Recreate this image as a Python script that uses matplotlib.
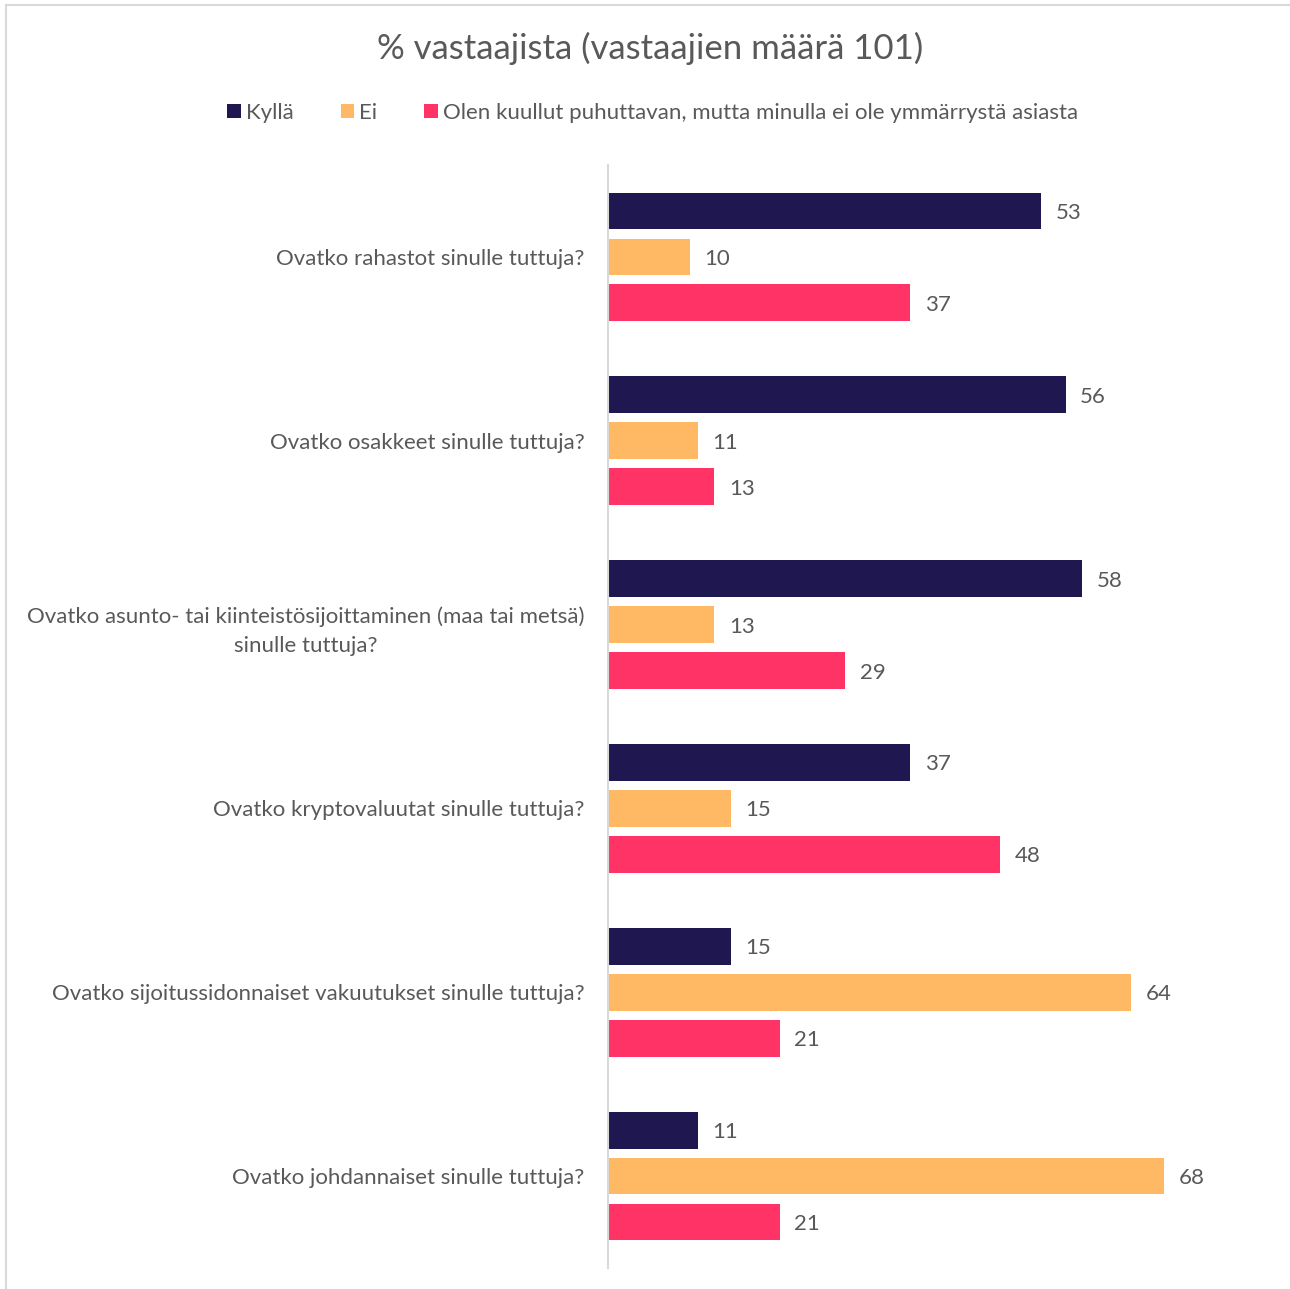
import matplotlib.pyplot as plt
import numpy as np
from matplotlib.patches import Patch
from matplotlib.lines import Line2D

plt.rcParams['font.family'] = ['Lato', 'DejaVu Sans']

questions = [
    "Ovatko rahastot sinulle tuttuja?",
    "Ovatko osakkeet sinulle tuttuja?",
    "Ovatko asunto- tai kiinteistösijoittaminen (maa tai metsä)\nsinulle tuttuja?",
    "Ovatko kryptovaluutat sinulle tuttuja?",
    "Ovatko sijoitussidonnaiset vakuutukset sinulle tuttuja?",
    "Ovatko johdannaiset sinulle tuttuja?",
]
series_names = ["Kyllä", "Ei", "Olen kuullut puhuttavan, mutta minulla ei ole ymmärrystä asiasta"]
kylla = [53, 56, 58, 37, 15, 11]
ei = [10, 11, 13, 15, 64, 68]
olen = [37, 13, 29, 48, 21, 21]
colors = ["#1f174f", "#ffb863", "#ff3366"]

text_col = "#595959"

fig = plt.figure(figsize=(12.9, 12.89), dpi=100)
ax = fig.add_axes([608 / 1290, 1 - 1268 / 1289, (1275 - 608) / 1290, (1268 - 165) / 1289])

centers = np.arange(len(questions)) * 4
for j, (vals, col) in enumerate(zip([kylla, ei, olen], colors)):
    ys = centers + (j - 1)
    ax.barh(ys, vals, height=0.8, color=col)
    for y, v in zip(ys, vals):
        ax.text(v + 1.8, y, str(v), va='center_baseline', ha='left', fontsize=16, color=text_col)

ax.set_ylim(centers[-1] + 2, -2)
ax.set_xlim(0, 667 / 8.17)
ax.set_yticks(centers)
ax.set_yticklabels(questions, fontsize=16, color=text_col)
ax.tick_params(axis='y', length=0, pad=17)
ax.set_xticks([])
for s in ['top', 'right', 'bottom']:
    ax.spines[s].set_visible(False)
ax.spines['left'].set_color('#d9d9d9')
ax.spines['left'].set_linewidth(1.5)

for lbl in ax.get_yticklabels():
    lbl.set_multialignment('center')
    lbl.set_linespacing(1.55)

fig.text(0.504, 1 - 48 / 1289, "% vastaajista (vastaajien määrä 101)", ha='center', va='center',
         fontsize=25, color=text_col)

handles = [Patch(facecolor=c, edgecolor='none') for c in colors]
leg = fig.legend(handles, series_names, loc='center', bbox_to_anchor=(0.506, 1 - 113 / 1289),
                 ncol=3, frameon=False, fontsize=16, handlelength=0.6, handleheight=0.6,
                 handletextpad=0.25, columnspacing=2.1)
for t in leg.get_texts():
    t.set_color(text_col)

# outer frame lines
fig.add_artist(Line2D([6 / 1290, 1], [1 - 5 / 1289, 1 - 5 / 1289], color='#d9d9d9', lw=1.5))
fig.add_artist(Line2D([6 / 1290, 6 / 1290], [1 - 5 / 1289, 0], color='#d9d9d9', lw=1.5))

fig.savefig("out.png", dpi=100)
